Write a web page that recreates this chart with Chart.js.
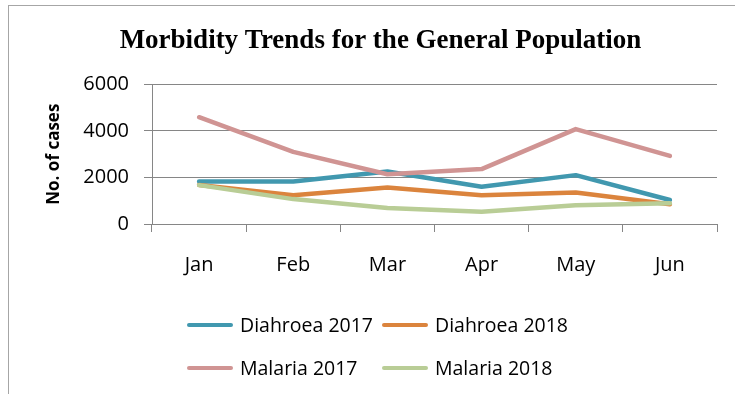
<!DOCTYPE html>
<html>
<head>
  <meta charset="utf-8">
  <title>Morbidity Trends</title>
  <script src="https://cdn.jsdelivr.net/npm/chart.js@4.4.0/dist/chart.umd.min.js"></script>
  <style>
    html, body {
      margin: 0;
      padding: 0;
      background: #fff;
      overflow: hidden;
    }
    .wrap {
      position: relative;
      width: 735px;
      height: 394px;
    }
    .frame {
      position: absolute;
      left: 8px;
      top: 5px;
      width: 800px;
      height: 500px;
      border: 1px solid #a6a6a6;
    }
    #legend {
      position: absolute;
      left: 187px;
      top: 303px;
      display: grid;
      grid-template-columns: 195px 195px;
      grid-auto-rows: 43px;
      font-family: "Open Sans", sans-serif;
      font-size: 19.5px;
      color: #000;
    }
    .item {
      display: flex;
      align-items: center;
      white-space: nowrap;
    }
    .swatch {
      display: inline-block;
      width: 46px;
      height: 4px;
      border-radius: 2px;
      margin-right: 7px;
    }
  </style>
</head>
<body>
  <div class="wrap">
    <div class="frame"></div>
    <canvas id="chart" width="735" height="394"></canvas>
    <div id="legend"></div>
  </div>

  <script>
    // monthly case counts
    const months = ['Jan', 'Feb', 'Mar', 'Apr', 'May', 'Jun'];
    const diahroea2017 = [1830, 1830, 2260, 1600, 2100, 1030];
    const diahroea2018 = [1680, 1240, 1570, 1240, 1350, 850];
    const malaria2017 = [4590, 3100, 2140, 2360, 4080, 2930];
    const malaria2018 = [1670, 1070, 690, 530, 810, 890];

    const seriesNames = ['Diahroea 2017', 'Diahroea 2018', 'Malaria 2017', 'Malaria 2018'];
    const seriesColors = ['#4198af', '#db843d', '#d09493', '#b9cd96'];
    const seriesValues = [diahroea2017, diahroea2018, malaria2017, malaria2018];

    const yMin = 0;
    const yMax = 6000;
    const yStep = 2000;

    const gridColor = '#868686';
    const tickFont = { family: 'Open Sans', size: 20 };

    const datasets = seriesNames.map((name, i) => ({
      label: name,
      data: seriesValues[i],
      borderColor: seriesColors[i],
      backgroundColor: seriesColors[i],
      borderWidth: 4.5,
      borderCapStyle: 'round',
      borderJoinStyle: 'round',
      pointRadius: 0,
      tension: 0,
      order: seriesNames.length - i   // later series drawn on top
    }));

    const ctx = document.getElementById('chart').getContext('2d');
    const chart = new Chart(ctx, {
      type: 'line',
      data: { labels: months, datasets: datasets },
      options: {
        responsive: false,
        animation: false,
        layout: {
          padding: { left: 44, right: 18, top: 0, bottom: 110 }
        },
        plugins: {
          legend: { display: false },
          tooltip: { enabled: false },
          title: {
            display: true,
            text: 'Morbidity Trends for the General Population',
            color: '#000',
            font: { family: 'Liberation Serif', size: 27, weight: 'bold', lineHeight: 1.2 },
            padding: { top: 25, bottom: 27 }
          }
        },
        scales: {
          x: {
            type: 'category',
            offset: true,
            grid: {
              offset: true,
              drawOnChartArea: false,
              drawTicks: true,
              tickLength: 8,
              color: gridColor
            },
            border: { color: gridColor },
            ticks: { color: '#000', font: tickFont, padding: 21 },
            afterFit: (scale) => { scale.height = 60; }
          },
          y: {
            min: yMin,
            max: yMax,
            ticks: {
              stepSize: yStep,
              color: '#000',
              font: tickFont,
              padding: 15,
              callback: (v) => String(v)
            },
            grid: { color: gridColor, tickLength: 8 },
            border: { color: gridColor },
            title: {
              display: true,
              text: 'No. of cases',
              color: '#000',
              font: { family: 'Open Sans', size: 17, weight: 'bold', lineHeight: 1.2 },
              padding: 0
            },
            afterFit: (scale) => { scale.width = 108; }
          }
        }
      }
    });

    // legend in two columns, built from the chart's datasets
    const legendEl = document.getElementById('legend');
    chart.data.datasets.forEach((ds) => {
      const item = document.createElement('div');
      item.className = 'item';
      const sw = document.createElement('span');
      sw.className = 'swatch';
      sw.style.background = ds.borderColor;
      const txt = document.createElement('span');
      txt.textContent = ds.label;
      item.appendChild(sw);
      item.appendChild(txt);
      legendEl.appendChild(item);
    });
  </script>
</body>
</html>
